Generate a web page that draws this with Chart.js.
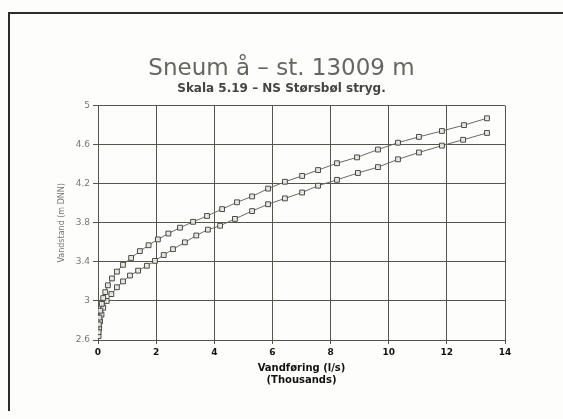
<!DOCTYPE html>
<html>
<head>
<meta charset="utf-8">
<script src="https://cdn.jsdelivr.net/npm/chart.js@4.4.0/dist/chart.umd.min.js"></script>
<style>
  html, body { margin: 0; padding: 0; background: #ffffff; }
  #wrap { width: 563px; height: 419px; position: relative; }
</style>
</head>
<body>
<div id="wrap"><canvas id="rating"></canvas></div>
<script>
// Vandføring (thousands l/s) / vandstand (m DNN)
const qUpper = [0.02, 0.03, 0.05, 0.08, 0.13, 0.18, 0.25, 0.34, 0.48, 0.65, 0.86, 1.14, 1.44, 1.74, 2.06, 2.42, 2.82,
  3.27, 3.75, 4.27, 4.78, 5.30, 5.85, 6.43, 7.02, 7.57, 8.22, 8.91, 9.63, 10.32, 11.04, 11.83, 12.59, 13.38];
const hUpper = [2.68, 2.76, 2.83, 2.90, 2.97, 3.03, 3.09, 3.16, 3.23, 3.30, 3.37, 3.44, 3.51, 3.57, 3.63, 3.69, 3.75,
  3.81, 3.87, 3.94, 4.01, 4.07, 4.15, 4.22, 4.28, 4.34, 4.41, 4.47, 4.55, 4.62, 4.68, 4.74, 4.80, 4.87];

const qLower = [0.02, 0.04, 0.07, 0.12, 0.18, 0.30, 0.46, 0.65, 0.86, 1.10, 1.38, 1.68, 1.96, 2.26, 2.58, 2.99, 3.38,
  3.78, 4.20, 4.71, 5.30, 5.85, 6.43, 7.02, 7.57, 8.22, 8.94, 9.63, 10.32, 11.04, 11.83, 12.56, 13.38];
const hLower = [2.64, 2.72, 2.79, 2.86, 2.93, 3.00, 3.07, 3.14, 3.20, 3.26, 3.31, 3.36, 3.41, 3.47, 3.53, 3.60, 3.67,
  3.73, 3.77, 3.84, 3.92, 3.99, 4.05, 4.11, 4.18, 4.24, 4.31, 4.37, 4.45, 4.52, 4.59, 4.65, 4.72];

const xTicks = [0, 2, 4, 6, 8, 10, 12, 14];
const yTicks = [2.6, 3, 3.4, 3.8, 4.2, 4.6, 5];

const titleText = 'Sneum å – st. 13009 m';
const subtitleText = 'Skala 5.19 – NS Størsbøl stryg.';
const xTitle = ['Vandføring (l/s)', '(Thousands)'];
const yTitle = 'Vandstand (m DNN)';

const GRID = '#55554c';

const toPoints = (qs, hs) => qs.map((q, i) => ({ x: q, y: hs[i] }));

// paper background + the thick frame line of the scanned page
const pageFrame = {
  id: 'pageFrame',
  beforeDraw(chart) {
    const c = chart.ctx;
    c.save();
    c.fillStyle = '#fdfdfc';
    c.fillRect(0, 0, chart.width, chart.height);
    c.strokeStyle = '#2c2c2c';
    c.lineWidth = 2;
    c.beginPath();
    c.moveTo(9, 411);
    c.lineTo(9, 13);
    c.lineTo(563, 13);
    c.stroke();
    c.restore();
  }
};

const seriesStyle = {
  showLine: true,
  borderColor: '#6a6a62',
  borderWidth: 1,
  pointStyle: 'rect',
  pointRadius: 3.4,
  pointBorderWidth: 1,
  pointBorderColor: '#4a4a44',
  pointBackgroundColor: 'rgba(235,235,230,0.9)',
  tension: 0
};

new Chart(document.getElementById('rating'), {
  type: 'scatter',
  data: {
    datasets: [
      Object.assign({ label: 'upper', data: toPoints(qUpper, hUpper) }, seriesStyle),
      Object.assign({ label: 'lower', data: toPoints(qLower, hLower) }, seriesStyle)
    ]
  },
  options: {
    responsive: true,
    maintainAspectRatio: false,
    animation: false,
    layout: { padding: { top: 50, right: 0, bottom: 0, left: 0 } },
    plugins: {
      legend: { display: false },
      tooltip: { enabled: false },
      title: {
        display: true,
        text: titleText,
        color: '#66665f',
        font: { family: 'DejaVu Sans', size: 23, weight: 'normal', lineHeight: 1.2 },
        padding: { top: 5, bottom: 0 }
      },
      subtitle: {
        display: true,
        text: subtitleText,
        color: '#45453f',
        font: { family: 'DejaVu Sans', size: 12, weight: 'bold', lineHeight: 1.0 },
        padding: { top: 0, bottom: 11 }
      }
    },
    scales: {
      x: {
        type: 'linear',
        min: 0,
        max: 14,
        afterBuildTicks: s => { s.ticks = xTicks.map(v => ({ value: v })); },
        afterFit: s => { s.height = 79; },
        grid: { color: GRID, lineWidth: 1, tickLength: 4, drawTicks: true },
        border: { color: GRID, width: 1 },
        ticks: {
          color: '#111',
          padding: 3,
          maxRotation: 0,
          font: { family: 'DejaVu Sans', size: 9, weight: 'bold' }
        },
        title: {
          display: true,
          text: xTitle,
          color: '#111',
          font: { family: 'DejaVu Sans', size: 10, weight: 'bold', lineHeight: 1.2 },
          padding: { top: 0, bottom: 33 }
        }
      },
      y: {
        type: 'linear',
        min: 2.6,
        max: 5,
        afterBuildTicks: s => { s.ticks = yTicks.map(v => ({ value: v })); },
        afterFit: s => { s.width = 98; },
        grid: { color: GRID, lineWidth: 1, tickLength: 5, drawTicks: true },
        border: { color: GRID, width: 1 },
        ticks: {
          color: '#77776f',
          padding: 3,
          font: { family: 'DejaVu Sans', size: 9 },
          callback: v => String(v)
        },
        title: {
          display: true,
          text: yTitle,
          color: '#77776f',
          font: { family: 'DejaVu Sans', size: 8 },
          padding: { top: 57, bottom: 0 }
        }
      },
      // empty right margin so the titles centre on the whole page
      margin: {
        type: 'linear',
        position: 'right',
        display: true,
        ticks: { display: false },
        grid: { display: false, drawTicks: false },
        border: { display: false },
        afterFit: s => { s.width = 58; }
      }
    }
  },
  plugins: [pageFrame]
});
</script>
</body>
</html>
